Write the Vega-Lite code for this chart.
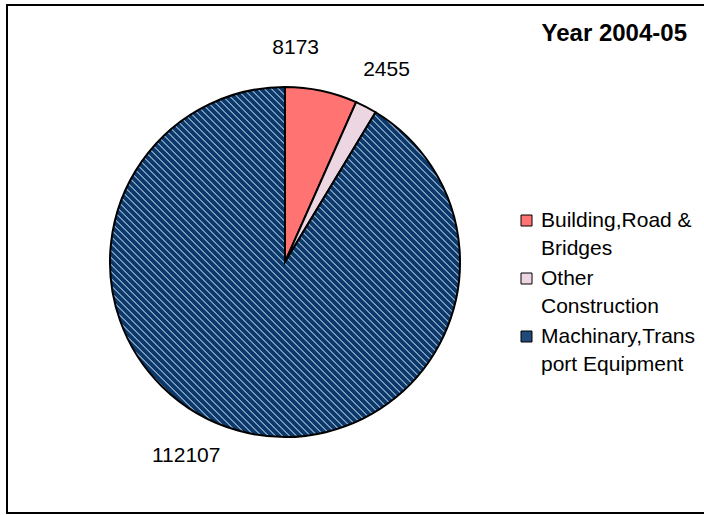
{
  "$schema": "https://vega.github.io/schema/vega-lite/v6.json",
  "autosize": "none",
  "width": 698,
  "height": 508,
  "padding": {"left": 7, "top": 5, "right": -1, "bottom": 2},
  "background": "white",
  "view": {"stroke": "black", "strokeWidth": 2},
  "config": {
    "view": {"stroke": "black", "strokeWidth": 2},
    "font": "Liberation Sans",
    "style": {
      "guide-label": {"lineHeight": 28},
      "view": {"stroke": "black", "strokeWidth": 2},
      "cell": {"stroke": "black", "strokeWidth": 2}
    }
  },
  "title": {
    "text": "Year 2004-05",
    "anchor": "end",
    "frame": "group",
    "orient": "top",
    "fontSize": 24,
    "fontWeight": "bold",
    "font": "Liberation Sans",
    "color": "black",
    "baseline": "alphabetic",
    "offset": 0,
    "dx": -18,
    "dy": 60
  },
  "data": {
    "values": [
      {"category": "Building,Road & Bridges", "value": 8173, "order": 1},
      {"category": "Other Construction", "value": 2455, "order": 2},
      {"category": "Machinary,Transport Equipment", "value": 112107, "order": 3}
    ]
  },
  "encoding": {
    "theta": {"field": "value", "type": "quantitative", "stack": true},
    "order": {"field": "order", "type": "quantitative"}
  },
  "layer": [
    {
      "mark": {"type": "arc", "radius": 175, "x": 278, "y": 257, "stroke": "black", "strokeWidth": 2},
      "encoding": {
        "color": {
          "condition": {
            "test": "datum.category === 'Machinary,Transport Equipment'",
            "value": {
              "gradient": "linear", "x1": 0, "y1": 1, "x2": 1, "y2": 0,
              "stops": [
                {"offset": 0, "color": "#0b396b"}, {"offset": 0.006, "color": "#0b396b"}, {"offset": 0.008, "color": "#b4c8de"},
                {"offset": 0.01, "color": "#0b396b"}, {"offset": 0.016, "color": "#0b396b"}, {"offset": 0.018, "color": "#b4c8de"},
                {"offset": 0.02, "color": "#0b396b"}, {"offset": 0.026, "color": "#0b396b"}, {"offset": 0.028, "color": "#b4c8de"},
                {"offset": 0.03, "color": "#0b396b"}, {"offset": 0.036, "color": "#0b396b"}, {"offset": 0.038, "color": "#b4c8de"},
                {"offset": 0.04, "color": "#0b396b"}, {"offset": 0.046, "color": "#0b396b"}, {"offset": 0.048, "color": "#b4c8de"},
                {"offset": 0.05, "color": "#0b396b"}, {"offset": 0.056, "color": "#0b396b"}, {"offset": 0.058, "color": "#b4c8de"},
                {"offset": 0.06, "color": "#0b396b"}, {"offset": 0.066, "color": "#0b396b"}, {"offset": 0.068, "color": "#b4c8de"},
                {"offset": 0.07, "color": "#0b396b"}, {"offset": 0.076, "color": "#0b396b"}, {"offset": 0.078, "color": "#b4c8de"},
                {"offset": 0.08, "color": "#0b396b"}, {"offset": 0.086, "color": "#0b396b"}, {"offset": 0.088, "color": "#b4c8de"},
                {"offset": 0.09, "color": "#0b396b"}, {"offset": 0.096, "color": "#0b396b"}, {"offset": 0.098, "color": "#b4c8de"},
                {"offset": 0.1, "color": "#0b396b"}, {"offset": 0.106, "color": "#0b396b"}, {"offset": 0.108, "color": "#b4c8de"},
                {"offset": 0.11, "color": "#0b396b"}, {"offset": 0.116, "color": "#0b396b"}, {"offset": 0.118, "color": "#b4c8de"},
                {"offset": 0.12, "color": "#0b396b"}, {"offset": 0.126, "color": "#0b396b"}, {"offset": 0.128, "color": "#b4c8de"},
                {"offset": 0.13, "color": "#0b396b"}, {"offset": 0.136, "color": "#0b396b"}, {"offset": 0.138, "color": "#b4c8de"},
                {"offset": 0.14, "color": "#0b396b"}, {"offset": 0.146, "color": "#0b396b"}, {"offset": 0.148, "color": "#b4c8de"},
                {"offset": 0.15, "color": "#0b396b"}, {"offset": 0.156, "color": "#0b396b"}, {"offset": 0.158, "color": "#b4c8de"},
                {"offset": 0.16, "color": "#0b396b"}, {"offset": 0.166, "color": "#0b396b"}, {"offset": 0.168, "color": "#b4c8de"},
                {"offset": 0.17, "color": "#0b396b"}, {"offset": 0.176, "color": "#0b396b"}, {"offset": 0.178, "color": "#b4c8de"},
                {"offset": 0.18, "color": "#0b396b"}, {"offset": 0.186, "color": "#0b396b"}, {"offset": 0.188, "color": "#b4c8de"},
                {"offset": 0.19, "color": "#0b396b"}, {"offset": 0.196, "color": "#0b396b"}, {"offset": 0.198, "color": "#b4c8de"},
                {"offset": 0.2, "color": "#0b396b"}, {"offset": 0.206, "color": "#0b396b"}, {"offset": 0.208, "color": "#b4c8de"},
                {"offset": 0.21, "color": "#0b396b"}, {"offset": 0.216, "color": "#0b396b"}, {"offset": 0.218, "color": "#b4c8de"},
                {"offset": 0.22, "color": "#0b396b"}, {"offset": 0.226, "color": "#0b396b"}, {"offset": 0.228, "color": "#b4c8de"},
                {"offset": 0.23, "color": "#0b396b"}, {"offset": 0.236, "color": "#0b396b"}, {"offset": 0.238, "color": "#b4c8de"},
                {"offset": 0.24, "color": "#0b396b"}, {"offset": 0.246, "color": "#0b396b"}, {"offset": 0.248, "color": "#b4c8de"},
                {"offset": 0.25, "color": "#0b396b"}, {"offset": 0.256, "color": "#0b396b"}, {"offset": 0.258, "color": "#b4c8de"},
                {"offset": 0.26, "color": "#0b396b"}, {"offset": 0.266, "color": "#0b396b"}, {"offset": 0.268, "color": "#b4c8de"},
                {"offset": 0.27, "color": "#0b396b"}, {"offset": 0.276, "color": "#0b396b"}, {"offset": 0.278, "color": "#b4c8de"},
                {"offset": 0.28, "color": "#0b396b"}, {"offset": 0.286, "color": "#0b396b"}, {"offset": 0.288, "color": "#b4c8de"},
                {"offset": 0.29, "color": "#0b396b"}, {"offset": 0.296, "color": "#0b396b"}, {"offset": 0.298, "color": "#b4c8de"},
                {"offset": 0.3, "color": "#0b396b"}, {"offset": 0.306, "color": "#0b396b"}, {"offset": 0.308, "color": "#b4c8de"},
                {"offset": 0.31, "color": "#0b396b"}, {"offset": 0.316, "color": "#0b396b"}, {"offset": 0.318, "color": "#b4c8de"},
                {"offset": 0.32, "color": "#0b396b"}, {"offset": 0.326, "color": "#0b396b"}, {"offset": 0.328, "color": "#b4c8de"},
                {"offset": 0.33, "color": "#0b396b"}, {"offset": 0.336, "color": "#0b396b"}, {"offset": 0.338, "color": "#b4c8de"},
                {"offset": 0.34, "color": "#0b396b"}, {"offset": 0.346, "color": "#0b396b"}, {"offset": 0.348, "color": "#b4c8de"},
                {"offset": 0.35, "color": "#0b396b"}, {"offset": 0.356, "color": "#0b396b"}, {"offset": 0.358, "color": "#b4c8de"},
                {"offset": 0.36, "color": "#0b396b"}, {"offset": 0.366, "color": "#0b396b"}, {"offset": 0.368, "color": "#b4c8de"},
                {"offset": 0.37, "color": "#0b396b"}, {"offset": 0.376, "color": "#0b396b"}, {"offset": 0.378, "color": "#b4c8de"},
                {"offset": 0.38, "color": "#0b396b"}, {"offset": 0.386, "color": "#0b396b"}, {"offset": 0.388, "color": "#b4c8de"},
                {"offset": 0.39, "color": "#0b396b"}, {"offset": 0.396, "color": "#0b396b"}, {"offset": 0.398, "color": "#b4c8de"},
                {"offset": 0.4, "color": "#0b396b"}, {"offset": 0.406, "color": "#0b396b"}, {"offset": 0.408, "color": "#b4c8de"},
                {"offset": 0.41, "color": "#0b396b"}, {"offset": 0.416, "color": "#0b396b"}, {"offset": 0.418, "color": "#b4c8de"},
                {"offset": 0.42, "color": "#0b396b"}, {"offset": 0.426, "color": "#0b396b"}, {"offset": 0.428, "color": "#b4c8de"},
                {"offset": 0.43, "color": "#0b396b"}, {"offset": 0.436, "color": "#0b396b"}, {"offset": 0.438, "color": "#b4c8de"},
                {"offset": 0.44, "color": "#0b396b"}, {"offset": 0.446, "color": "#0b396b"}, {"offset": 0.448, "color": "#b4c8de"},
                {"offset": 0.45, "color": "#0b396b"}, {"offset": 0.456, "color": "#0b396b"}, {"offset": 0.458, "color": "#b4c8de"},
                {"offset": 0.46, "color": "#0b396b"}, {"offset": 0.466, "color": "#0b396b"}, {"offset": 0.468, "color": "#b4c8de"},
                {"offset": 0.47, "color": "#0b396b"}, {"offset": 0.476, "color": "#0b396b"}, {"offset": 0.478, "color": "#b4c8de"},
                {"offset": 0.48, "color": "#0b396b"}, {"offset": 0.486, "color": "#0b396b"}, {"offset": 0.488, "color": "#b4c8de"},
                {"offset": 0.49, "color": "#0b396b"}, {"offset": 0.496, "color": "#0b396b"}, {"offset": 0.498, "color": "#b4c8de"},
                {"offset": 0.5, "color": "#0b396b"}, {"offset": 0.506, "color": "#0b396b"}, {"offset": 0.508, "color": "#b4c8de"},
                {"offset": 0.51, "color": "#0b396b"}, {"offset": 0.516, "color": "#0b396b"}, {"offset": 0.518, "color": "#b4c8de"},
                {"offset": 0.52, "color": "#0b396b"}, {"offset": 0.526, "color": "#0b396b"}, {"offset": 0.528, "color": "#b4c8de"},
                {"offset": 0.53, "color": "#0b396b"}, {"offset": 0.536, "color": "#0b396b"}, {"offset": 0.538, "color": "#b4c8de"},
                {"offset": 0.54, "color": "#0b396b"}, {"offset": 0.546, "color": "#0b396b"}, {"offset": 0.548, "color": "#b4c8de"},
                {"offset": 0.55, "color": "#0b396b"}, {"offset": 0.556, "color": "#0b396b"}, {"offset": 0.558, "color": "#b4c8de"},
                {"offset": 0.56, "color": "#0b396b"}, {"offset": 0.566, "color": "#0b396b"}, {"offset": 0.568, "color": "#b4c8de"},
                {"offset": 0.57, "color": "#0b396b"}, {"offset": 0.576, "color": "#0b396b"}, {"offset": 0.578, "color": "#b4c8de"},
                {"offset": 0.58, "color": "#0b396b"}, {"offset": 0.586, "color": "#0b396b"}, {"offset": 0.588, "color": "#b4c8de"},
                {"offset": 0.59, "color": "#0b396b"}, {"offset": 0.596, "color": "#0b396b"}, {"offset": 0.598, "color": "#b4c8de"},
                {"offset": 0.6, "color": "#0b396b"}, {"offset": 0.606, "color": "#0b396b"}, {"offset": 0.608, "color": "#b4c8de"},
                {"offset": 0.61, "color": "#0b396b"}, {"offset": 0.616, "color": "#0b396b"}, {"offset": 0.618, "color": "#b4c8de"},
                {"offset": 0.62, "color": "#0b396b"}, {"offset": 0.626, "color": "#0b396b"}, {"offset": 0.628, "color": "#b4c8de"},
                {"offset": 0.63, "color": "#0b396b"}, {"offset": 0.636, "color": "#0b396b"}, {"offset": 0.638, "color": "#b4c8de"},
                {"offset": 0.64, "color": "#0b396b"}, {"offset": 0.646, "color": "#0b396b"}, {"offset": 0.648, "color": "#b4c8de"},
                {"offset": 0.65, "color": "#0b396b"}, {"offset": 0.656, "color": "#0b396b"}, {"offset": 0.658, "color": "#b4c8de"},
                {"offset": 0.66, "color": "#0b396b"}, {"offset": 0.666, "color": "#0b396b"}, {"offset": 0.668, "color": "#b4c8de"},
                {"offset": 0.67, "color": "#0b396b"}, {"offset": 0.676, "color": "#0b396b"}, {"offset": 0.678, "color": "#b4c8de"},
                {"offset": 0.68, "color": "#0b396b"}, {"offset": 0.686, "color": "#0b396b"}, {"offset": 0.688, "color": "#b4c8de"},
                {"offset": 0.69, "color": "#0b396b"}, {"offset": 0.696, "color": "#0b396b"}, {"offset": 0.698, "color": "#b4c8de"},
                {"offset": 0.7, "color": "#0b396b"}, {"offset": 0.706, "color": "#0b396b"}, {"offset": 0.708, "color": "#b4c8de"},
                {"offset": 0.71, "color": "#0b396b"}, {"offset": 0.716, "color": "#0b396b"}, {"offset": 0.718, "color": "#b4c8de"},
                {"offset": 0.72, "color": "#0b396b"}, {"offset": 0.726, "color": "#0b396b"}, {"offset": 0.728, "color": "#b4c8de"},
                {"offset": 0.73, "color": "#0b396b"}, {"offset": 0.736, "color": "#0b396b"}, {"offset": 0.738, "color": "#b4c8de"},
                {"offset": 0.74, "color": "#0b396b"}, {"offset": 0.746, "color": "#0b396b"}, {"offset": 0.748, "color": "#b4c8de"},
                {"offset": 0.75, "color": "#0b396b"}, {"offset": 0.756, "color": "#0b396b"}, {"offset": 0.758, "color": "#b4c8de"},
                {"offset": 0.76, "color": "#0b396b"}, {"offset": 0.766, "color": "#0b396b"}, {"offset": 0.768, "color": "#b4c8de"},
                {"offset": 0.77, "color": "#0b396b"}, {"offset": 0.776, "color": "#0b396b"}, {"offset": 0.778, "color": "#b4c8de"},
                {"offset": 0.78, "color": "#0b396b"}, {"offset": 0.786, "color": "#0b396b"}, {"offset": 0.788, "color": "#b4c8de"},
                {"offset": 0.79, "color": "#0b396b"}, {"offset": 0.796, "color": "#0b396b"}, {"offset": 0.798, "color": "#b4c8de"},
                {"offset": 0.8, "color": "#0b396b"}, {"offset": 0.806, "color": "#0b396b"}, {"offset": 0.808, "color": "#b4c8de"},
                {"offset": 0.81, "color": "#0b396b"}, {"offset": 0.816, "color": "#0b396b"}, {"offset": 0.818, "color": "#b4c8de"},
                {"offset": 0.82, "color": "#0b396b"}, {"offset": 0.826, "color": "#0b396b"}, {"offset": 0.828, "color": "#b4c8de"},
                {"offset": 0.83, "color": "#0b396b"}, {"offset": 0.836, "color": "#0b396b"}, {"offset": 0.838, "color": "#b4c8de"},
                {"offset": 0.84, "color": "#0b396b"}, {"offset": 0.846, "color": "#0b396b"}, {"offset": 0.848, "color": "#b4c8de"},
                {"offset": 0.85, "color": "#0b396b"}, {"offset": 0.856, "color": "#0b396b"}, {"offset": 0.858, "color": "#b4c8de"},
                {"offset": 0.86, "color": "#0b396b"}, {"offset": 0.866, "color": "#0b396b"}, {"offset": 0.868, "color": "#b4c8de"},
                {"offset": 0.87, "color": "#0b396b"}, {"offset": 0.876, "color": "#0b396b"}, {"offset": 0.878, "color": "#b4c8de"},
                {"offset": 0.88, "color": "#0b396b"}, {"offset": 0.886, "color": "#0b396b"}, {"offset": 0.888, "color": "#b4c8de"},
                {"offset": 0.89, "color": "#0b396b"}, {"offset": 0.896, "color": "#0b396b"}, {"offset": 0.898, "color": "#b4c8de"},
                {"offset": 0.9, "color": "#0b396b"}, {"offset": 0.906, "color": "#0b396b"}, {"offset": 0.908, "color": "#b4c8de"},
                {"offset": 0.91, "color": "#0b396b"}, {"offset": 0.916, "color": "#0b396b"}, {"offset": 0.918, "color": "#b4c8de"},
                {"offset": 0.92, "color": "#0b396b"}, {"offset": 0.926, "color": "#0b396b"}, {"offset": 0.928, "color": "#b4c8de"},
                {"offset": 0.93, "color": "#0b396b"}, {"offset": 0.936, "color": "#0b396b"}, {"offset": 0.938, "color": "#b4c8de"},
                {"offset": 0.94, "color": "#0b396b"}, {"offset": 0.946, "color": "#0b396b"}, {"offset": 0.948, "color": "#b4c8de"},
                {"offset": 0.95, "color": "#0b396b"}, {"offset": 0.956, "color": "#0b396b"}, {"offset": 0.958, "color": "#b4c8de"},
                {"offset": 0.96, "color": "#0b396b"}, {"offset": 0.966, "color": "#0b396b"}, {"offset": 0.968, "color": "#b4c8de"},
                {"offset": 0.97, "color": "#0b396b"}, {"offset": 0.976, "color": "#0b396b"}, {"offset": 0.978, "color": "#b4c8de"},
                {"offset": 0.98, "color": "#0b396b"}, {"offset": 0.986, "color": "#0b396b"}, {"offset": 0.988, "color": "#b4c8de"},
                {"offset": 0.99, "color": "#0b396b"}, {"offset": 0.996, "color": "#0b396b"}, {"offset": 0.998, "color": "#b4c8de"},
                {"offset": 1, "color": "#0b396b"}
              ]
            }
          },
          "field": "category",
          "type": "nominal",
          "scale": {
            "domain": ["Building,Road & Bridges", "Other Construction", "Machinary,Transport Equipment"],
            "range": ["#ff7373", "#ecd6e1", "#1f4a7a"]
          },
          "legend": {
            "orient": "none",
            "legendX": 509,
            "legendY": 205,
            "title": null,
            "symbolType": "square",
            "symbolSize": 121,
            "symbolStrokeColor": "black",
            "symbolStrokeWidth": 1,
            "symbolOpacity": 1,
            "labelFontSize": 21,
            "labelFont": "Liberation Sans",
            "labelColor": "black",
            "labelLimit": 300,
            "labelOffset": 4,
            "rowPadding": 8,
            "labelExpr": "datum.label == 'Building,Road & Bridges' ? ['Building,Road &', 'Bridges'] : datum.label == 'Other Construction' ? ['Other', 'Construction'] : ['Machinary,Trans', 'port Equipment']"
          }
        }
      }
    },
    {
      "mark": {"type": "text", "radius": 215, "x": 278, "y": 257, "fontSize": 21, "color": "black", "dx": -34, "dy": -4},
      "encoding": {
        "text": {"condition": {"test": "datum.category === 'Building,Road & Bridges'", "field": "value", "type": "quantitative"}, "value": ""}
      }
    },
    {
      "mark": {"type": "text", "radius": 215, "x": 278, "y": 257, "fontSize": 21, "color": "black", "dx": 2, "dy": -1},
      "encoding": {
        "text": {"condition": {"test": "datum.category === 'Other Construction'", "field": "value", "type": "quantitative"}, "value": ""}
      }
    },
    {
      "mark": {"type": "text", "radius": 215, "x": 278, "y": 257, "fontSize": 21, "color": "black", "dx": -41, "dy": -13},
      "encoding": {
        "text": {"condition": {"test": "datum.category === 'Machinary,Transport Equipment'", "field": "value", "type": "quantitative"}, "value": ""}
      }
    }
  ]
}
